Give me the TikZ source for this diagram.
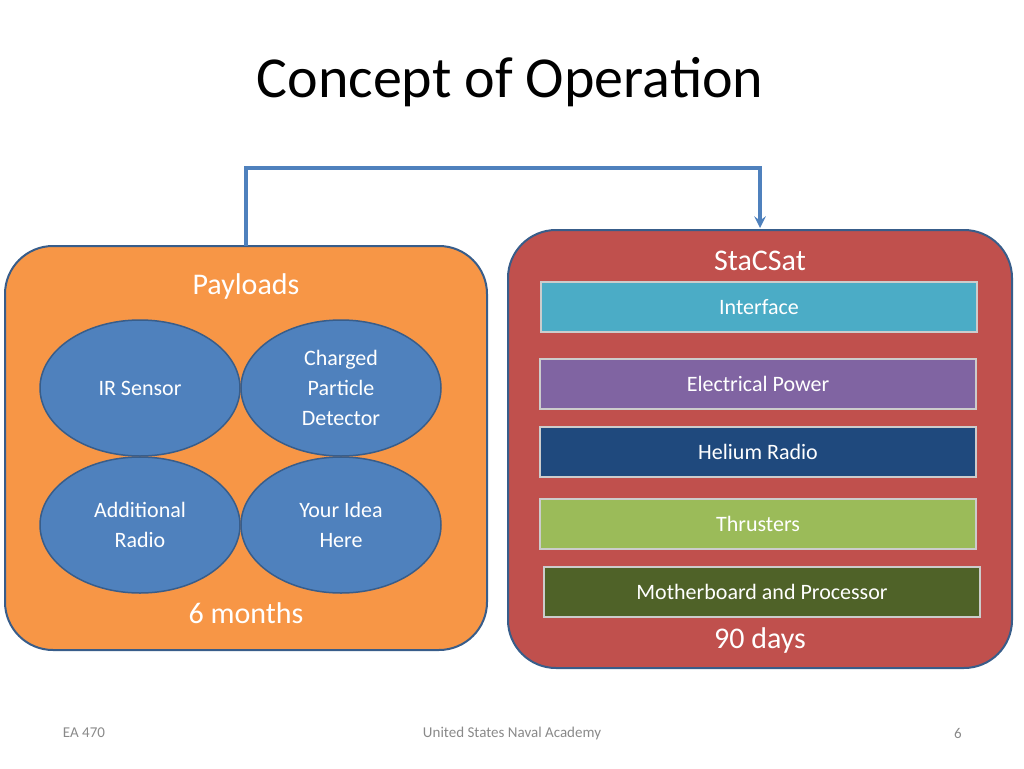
\documentclass[tikz,border=0pt]{standalone}
\usepackage{fontspec}
\setmainfont{Carlito}
\usetikzlibrary{shapes.geometric}
\definecolor{panelorange}{RGB}{247,150,70}
\definecolor{panelred}{RGB}{192,80,77}
\definecolor{edgeblue}{RGB}{56,93,138}
\definecolor{flowblue}{RGB}{79,129,189}
\definecolor{barcyan}{RGB}{75,172,198}
\definecolor{barpurple}{RGB}{128,100,162}
\definecolor{barnavy}{RGB}{31,73,125}
\definecolor{bargreen}{RGB}{155,187,89}
\definecolor{barolive}{RGB}{79,98,40}
\definecolor{footgray}{RGB}{137,137,137}

\begin{document}
\begin{tikzpicture}[
    x=1pt, y=-1pt,
    % panels and parts
    panel/.style={draw=edgeblue, line width=2pt, rounded corners=48pt},
    payload/.style={ellipse, draw=edgeblue, line width=1.5pt, fill=flowblue,
        minimum width=200pt, minimum height=136pt, text=white, align=center,
        font=\fontsize{22}{30}\selectfont},
    bar/.style={rectangle, draw=gray!40, line width=2pt, minimum width=436pt,
        minimum height=50pt, text=white, font=\fontsize{22}{26}\selectfont},
    heading/.style={text=white, font=\fontsize{30}{34}\selectfont},
    footer/.style={text=footgray, font=\fontsize{15}{18}\selectfont},
    flow/.style={->, >=stealth, draw=flowblue, line width=4pt}
]
    \useasboundingbox (0,0) rectangle (1024,768);

    % title
    \node[font=\fontsize{58}{64}\selectfont] (title) at (510,82) {Concept of Operation};

    % panels
    \draw[panel, fill=panelorange] (5,246) rectangle (487,650);
    \draw[panel, fill=panelred] (508,230) rectangle (1012,668);
    \coordinate (leftTop) at (246,246);
    \coordinate (rightTop) at (760,228);

    % hand-over arrow
    \draw[flow] (leftTop) -- (246,168) -- (760,168) -- (rightTop);

    % payloads side
    \node[heading] (payloads) at (246,286) {Payloads};
    \node[payload] (ir) at (140,388) {IR Sensor};
    \node[payload] (charged) at (341,388) {Charged\\Particle\\Detector};
    \node[payload] (radio) at (140,525) {Additional\\Radio};
    \node[payload] (idea) at (341,525) {Your Idea\\Here};
    \node[heading] (months) at (246,613) {6 months};

    % satellite side
    \node[heading] (stacsat) at (760,261) {StaCSat};
    \node[bar, fill=barcyan] (interface) at (759,307) {Interface};
    \node[bar, fill=barpurple] (power) at (758,384) {Electrical Power};
    \node[bar, fill=barnavy] (helium) at (758,452) {Helium Radio};
    \node[bar, fill=bargreen] (thrusters) at (758,524) {Thrusters};
    \node[bar, fill=barolive] (mother) at (762,592) {Motherboard and Processor};
    \node[heading] (days) at (760,640) {90 days};

    % footer
    \node[footer] (course) at (84,733) {EA 470};
    \node[footer] (school) at (512,733) {United States Naval Academy};
    \node[footer] (page) at (958,733) {6};
\end{tikzpicture}
\end{document}
